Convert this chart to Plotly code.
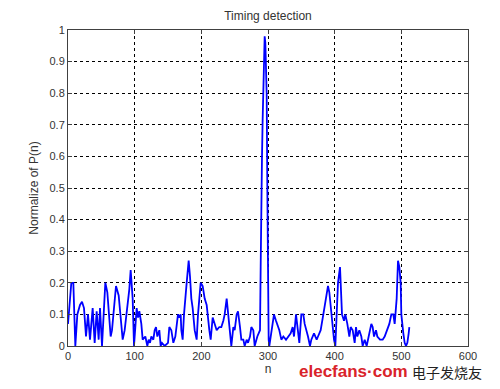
import plotly.graph_objects as go

# sample index n and normalized metric P(n)
n = [0, 3, 5, 8, 11, 14, 18, 21, 24, 27, 30, 33, 37, 40, 43, 46, 48, 51, 54, 56, 59, 62, 64, 66,
     70, 72, 76, 79, 82, 85, 88, 92, 94, 97, 99, 101, 103, 105, 107, 110, 112, 116, 119, 121, 123,
     125, 128, 130, 132, 134, 137, 139, 141, 145, 150, 152, 155, 158, 161, 165, 167, 169, 170, 172,
     174, 178, 181, 183, 185, 187, 190, 193, 195, 199, 202, 205, 208, 212, 214, 217, 220, 223, 227,
     230, 233, 235, 238, 240, 243, 245, 248, 250, 253, 255, 258, 260, 263, 265, 268, 270, 273, 275,
     278, 280, 284, 288, 289, 290, 291, 292, 293, 294, 295, 296, 297, 298, 299, 300, 301, 302, 305,
     309, 312, 314, 317, 320, 323, 327, 330, 334, 337, 339, 342, 344, 347, 350, 353, 355, 358, 360,
     363, 365, 369, 373, 375, 379, 383, 385, 388, 390, 392, 394, 396, 399, 401, 403, 405, 408, 409,
     411, 414, 416, 419, 422, 424, 427, 430, 432, 434, 437, 440, 442, 445, 448, 451, 455, 457, 459,
     462, 464, 468, 472, 475, 479, 482, 485, 488, 490, 493, 495, 497, 499, 500, 503, 505, 507, 509,
     511, 512]
p = [0.07, 0.15, 0.2, 0.2, 0.0, 0.1, 0.13, 0.14, 0.12, 0.03, 0.1, 0.02, 0.12, 0.01, 0.11, 0.02, 0.12,
     0.0, 0.12, 0.2, 0.17, 0.08, 0.03, 0.05, 0.15, 0.19, 0.16, 0.08, 0.02, 0.05, 0.1, 0.18, 0.24, 0.15,
     0.0, 0.08, 0.12, 0.09, 0.11, 0.07, 0.02, 0.03, 0.0, 0.02, 0.01, 0.03, 0.02, 0.05, 0.06, 0.03, 0.05,
     0.0, 0.01, 0.0, 0.01, 0.06, 0.05, 0.01, 0.03, 0.1, 0.09, 0.1, 0.05, 0.02, 0.1, 0.2, 0.27, 0.22,
     0.15, 0.12, 0.05, 0.02, 0.1, 0.2, 0.19, 0.15, 0.13, 0.05, 0.02, 0.09, 0.07, 0.05, 0.06, 0.06, 0.08,
     0.1, 0.15, 0.11, 0.05, 0.0, 0.06, 0.05, 0.1, 0.11, 0.06, 0.02, 0.02, 0.0, 0.02, 0.01, 0.03, 0.06,
     0.05, 0.0, 0.03, 0.05, 0.25, 0.5, 0.6, 0.72, 0.8, 0.85, 0.98, 0.96, 0.85, 0.8, 0.5, 0.2, 0.02, 0.0,
     0.05, 0.1, 0.08, 0.07, 0.05, 0.02, 0.03, 0.02, 0.03, 0.04, 0.06, 0.03, 0.1, 0.07, 0.01, 0.1, 0.1,
     0.07, 0.05, 0.03, 0.0, 0.02, 0.04, 0.02, 0.03, 0.05, 0.1, 0.13, 0.16, 0.19, 0.17, 0.12, 0.08, 0.02,
     0.0, 0.1, 0.2, 0.25, 0.2, 0.1, 0.08, 0.1, 0.07, 0.03, 0.06, 0.05, 0.01, 0.06, 0.03, 0.05, 0.03, 0.0,
     0.02, 0.0, 0.03, 0.07, 0.06, 0.03, 0.05, 0.03, 0.02, 0.02, 0.03, 0.05, 0.07, 0.1, 0.1, 0.07, 0.15,
     0.27, 0.25, 0.2, 0.1, 0.04, 0.01, 0.0, 0.01, 0.04, 0.06]

x_ticks = [0, 100, 200, 300, 400, 500, 600]
y_ticks = [0, 0.1, 0.2, 0.3, 0.4, 0.5, 0.6, 0.7, 0.8, 0.9, 1]
y_ticklabels = ["0", "0.1", "0.2", "0.3", "0.4", "0.5", "0.6", "0.7", "0.8", "0.9", "1"]

FONT = "Liberation Sans, Arial, sans-serif"

fig = go.Figure()
fig.add_trace(go.Scatter(x=n, y=p, mode="lines",
                         line=dict(color="#0000ff", width=1.8), showlegend=False))

axis_common = dict(
    showgrid=True, gridcolor="#000000", griddash="dot", gridwidth=1,
    showline=True, linecolor="#404040", linewidth=1, mirror="ticks",
    ticks="inside", ticklen=4, tickcolor="#404040",
    zeroline=False,
    tickfont=dict(family=FONT, size=11, color="#333333"),
)

fig.update_layout(
    width=492, height=381,
    margin=dict(l=60, r=32, t=22, b=43),
    paper_bgcolor="white", plot_bgcolor="white",
    title=dict(text="Timing detection", x=(268 - 8) / 492, xanchor="center",
               y=1 - (16 - 8) / 381, yanchor="middle",
               font=dict(family=FONT, size=12, color="#333333")),
    xaxis=dict(range=[0, 600], tickvals=x_ticks, **axis_common,
               title=dict(text="n", standoff=2, font=dict(family=FONT, size=12, color="#333333"))),
    yaxis=dict(range=[0, 1], tickvals=y_ticks, ticktext=y_ticklabels, **axis_common,
               title=dict(text="Normalize of P(n)", standoff=8,
                          font=dict(family=FONT, size=12, color="#333333"))),
)

fig.add_annotation(text="<b>elecfans·com</b>", xref="paper", yref="paper", x=(297 - 68) / 400,
                   y=-(371 - 346) / 316, xanchor="left", yanchor="middle", showarrow=False,
                   font=dict(family=FONT, size=17, color="#d9232a"))
fig.add_annotation(text="电子发烧友", xref="paper", yref="paper", x=(410 - 68) / 400,
                   y=-(372 - 346) / 316, xanchor="left", yanchor="middle", showarrow=False,
                   font=dict(family="Noto Sans CJK SC", size=14, color="#222222"))

fig.write_html("out.html")
